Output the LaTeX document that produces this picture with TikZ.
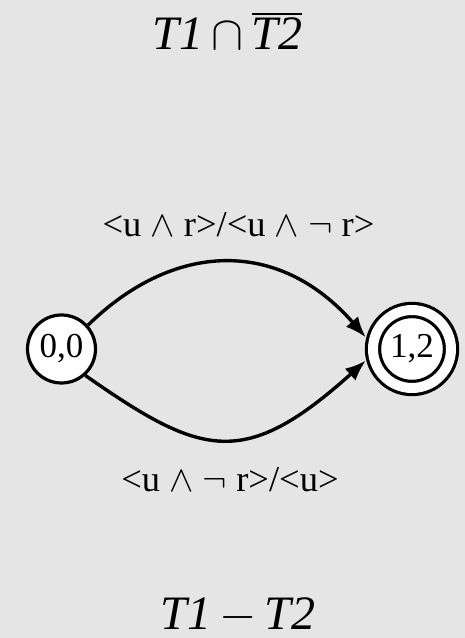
\RequirePackage{fix-cm}
\documentclass[tikz,border=0pt]{standalone}
\usepackage{fontspec}
\setmainfont{Liberation Serif}
\usetikzlibrary{arrows.meta}
\newcommand{\barred}[1]{\vbox{\hrule height 2.5pt\kern 3pt\hbox{#1}}}
\tikzset{
	state/.style={circle, draw, line width=3.2pt, fill=white, inner sep=0pt, minimum size=68pt, font=\fontsize{35}{40}\selectfont},
	accept/.style={state, double=white, double distance=10pt, minimum size=78pt, outer sep=8.5pt},
	trans/.style={line width=3.4pt, -{Latex[length=21pt,width=16pt]}},
	lbl/.style={anchor=base, inner sep=0pt, font=\fontsize{36.5}{40}\selectfont},
	ttl/.style={anchor=base, inner sep=0pt, font=\fontsize{48}{52}\selectfont}
}
\begin{document}
\begin{tikzpicture}[x=1pt, y=1pt]
				\path[use as bounding box, fill=black!10] (0,0) rectangle (465,638);

				\node[state] (s00) at (61.5,289) {0,0};
				\node[accept] (s12) at (412,289) {1,2};

				\draw[trans] (s00.42) .. controls (174,397) and (279,400) .. (s12.166);
				\draw[trans] (s00.-48) .. controls (202,181) and (244,168) .. (s12.194);

				\node[lbl] (top) at (238.5,401) {<u $\wedge$ r>/<u $\wedge$ $\neg$ r>};
				\node[lbl] (bot) at (230,146) {<u $\wedge$ $\neg$ r>/<u>};

				\node[ttl] (inter) at (227.5,588) {\textit{T1}$\,\cap\,$\barred{\itshape T2}};
				\node[ttl] (minus) at (238,9) {\textit{T1}$\,-\,$\textit{T2}};
			\end{tikzpicture}
\end{document}
